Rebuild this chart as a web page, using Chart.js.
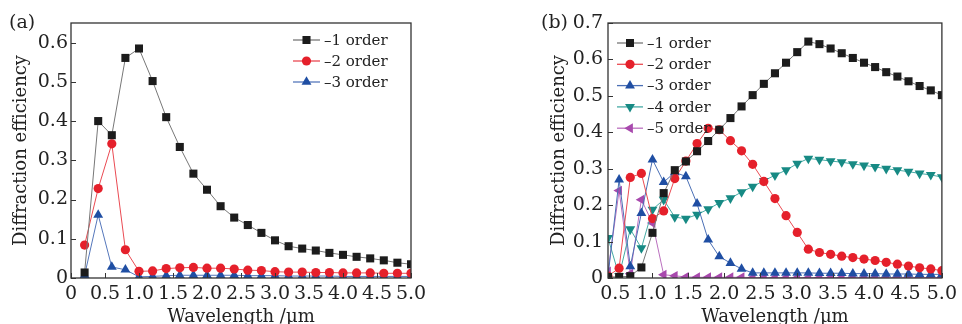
<!DOCTYPE html>
<html>
<head>
<meta charset="utf-8">
<script src="https://cdn.jsdelivr.net/npm/chart.js@4.4.1/dist/chart.umd.min.js"></script>
<style>
body{margin:0;width:962px;height:324px;overflow:hidden;background:#fff;position:relative}
canvas{position:absolute;top:0}
#chartA{left:0}
#chartB{left:480px}
</style>
</head>
<body>
<canvas id="chartA" width="440" height="340"></canvas>
<canvas id="chartB" width="482" height="340"></canvas>
<script>

// (a) wavelength samples and efficiencies
const wavelengthA=[0.2,0.4,0.6,0.8,1.0,1.2,1.4,1.6,1.8,2.0,2.2,2.4,2.6,2.8,3.0,3.2,3.4,3.6,3.8,4.0,4.2,4.4,4.6,4.8,5.0];
const order1A=[0.014,0.400,0.364,0.561,0.585,0.502,0.410,0.334,0.266,0.225,0.183,0.154,0.135,0.115,0.096,0.081,0.075,0.070,0.064,0.059,0.054,0.050,0.045,0.039,0.035];
const order2A=[0.084,0.228,0.342,0.072,0.017,0.018,0.024,0.026,0.027,0.025,0.025,0.023,0.020,0.019,0.016,0.015,0.015,0.014,0.014,0.013,0.013,0.013,0.012,0.012,0.012];
const order3A=[0.007,0.161,0.028,0.021,0.003,0.004,0.006,0.007,0.007,0.007,0.007,0.007,0.006,0.006,0.006,0.005,0.005,0.005,0.005,0.004,0.004,0.004,0.004,0.004,0.004];
const xTicksA=[0,0.5,1.0,1.5,2.0,2.5,3.0,3.5,4.0,4.5,5.0];
const yTicksA=[0,0.1,0.2,0.3,0.4,0.5,0.6];

// (b)
const wavelengthB=[0.4,0.553,0.707,0.86,1.013,1.167,1.32,1.473,1.627,1.78,1.933,2.087,2.24,2.393,2.547,2.7,2.853,3.007,3.16,3.313,3.467,3.62,3.773,3.927,4.08,4.233,4.387,4.54,4.693,4.847,5.0];
const order1B=[0.003,0.003,0.005,0.029,0.124,0.233,0.296,0.320,0.348,0.376,0.407,0.439,0.471,0.502,0.533,0.562,0.591,0.620,0.649,0.642,0.630,0.617,0.604,0.591,0.579,0.565,0.553,0.540,0.527,0.515,0.502];
const order2B=[0.005,0.027,0.276,0.287,0.163,0.184,0.273,0.321,0.369,0.411,0.407,0.377,0.349,0.312,0.265,0.218,0.171,0.125,0.079,0.070,0.065,0.060,0.056,0.052,0.048,0.043,0.038,0.033,0.028,0.025,0.020];
const order3B=[0.005,0.270,0.032,0.178,0.325,0.263,0.290,0.279,0.204,0.105,0.059,0.041,0.025,0.014,0.014,0.014,0.014,0.014,0.014,0.013,0.013,0.013,0.012,0.012,0.012,0.011,0.011,0.011,0.010,0.010,0.010];
const order4B=[0.110,0.006,0.134,0.082,0.188,0.215,0.167,0.163,0.174,0.189,0.206,0.219,0.236,0.251,0.267,0.282,0.296,0.314,0.328,0.325,0.321,0.318,0.313,0.309,0.305,0.300,0.296,0.292,0.287,0.283,0.277];
const order5B=[0.018,0.240,0.012,0.215,0.151,0.009,0.006,0.003,0.002,0.002,0.002,0.002,0.002,0.001,0.001,0.001,0.001,0.001,0.001,0.001,0.001,0.001,0.001,0.001,0.001,0.001,0.001,0.001,0.001,0.001,0.001];
const xTicksB=[0.5,1.0,1.5,2.0,2.5,3.0,3.5,4.0,4.5,5.0];
const yTicksB=[0,0.1,0.2,0.3,0.4,0.5,0.6,0.7];

Chart.defaults.font.family="'DejaVu Serif', serif";
Chart.defaults.color="#222";

function pts(xs,ys){
return xs.map((x,i)=>({x:x,y:ys[i]}));
}

function series(label,xs,ys,color,lineColor,style,radius,rot){
return {
label:label,
data:pts(xs,ys),
borderColor:lineColor,
backgroundColor:color,
pointBackgroundColor:color,
pointBorderColor:color,
borderWidth:1,
pointBorderWidth:0,
pointStyle:style,
pointRadius:radius,
pointRotation:rot||0,
tension:0
};
}

function tickLabel(v){
return v===0?"0":v.toFixed(1);
}

// frame, inside ticks, legend with line + marker, panel letter
const framePlugin={
id:"frame",
afterDraw(chart,args,opt){
const ctx=chart.ctx,a=chart.chartArea;
ctx.save();
ctx.strokeStyle="#333";
ctx.lineWidth=1.3;
ctx.strokeRect(a.left,a.top,a.right-a.left,a.bottom-a.top);
ctx.lineWidth=1;
chart.scales.x.ticks.forEach(t=>{
const px=Math.round(chart.scales.x.getPixelForValue(t.value))+0.5;
ctx.beginPath();ctx.moveTo(px,a.bottom);ctx.lineTo(px,a.bottom-5);ctx.stroke();
});
chart.scales.y.ticks.forEach(t=>{
const py=Math.round(chart.scales.y.getPixelForValue(t.value))+0.5;
ctx.beginPath();ctx.moveTo(a.left,py);ctx.lineTo(a.left+5,py);ctx.stroke();
});

// legend
ctx.font="15px 'DejaVu Serif'";
ctx.textBaseline="middle";
chart.data.datasets.forEach((ds,i)=>{
const y=opt.legendY+i*opt.legendGap;
ctx.strokeStyle=ds.borderColor;
ctx.lineWidth=1.3;
ctx.beginPath();ctx.moveTo(opt.legendX,y);ctx.lineTo(opt.legendX+opt.legendLen,y);ctx.stroke();
ctx.fillStyle=ds.pointBackgroundColor;
Chart.helpers.drawPoint(ctx,{pointStyle:ds.pointStyle,radius:ds.pointRadius,rotation:ds.pointRotation,borderWidth:0},opt.legendX+opt.legendLen/2,y);
ctx.fillStyle="#222";
ctx.fillText(ds.label,opt.legendX+opt.legendLen+4,y+1);
});

ctx.font="19px 'DejaVu Serif'";
ctx.fillStyle="#222";
ctx.textBaseline="middle";
ctx.fillText(opt.letter,opt.letterX,opt.letterY);
ctx.restore();
}
};

function makeOptions(xMin,xMax,yMax,xTicks,yTicks,yWidth,yTitlePad,tickPad,padRight,frame){
return {
responsive:false,
animation:false,
devicePixelRatio:1,
layout:{padding:{top:23,right:padRight,bottom:0,left:0}},
plugins:{legend:{display:false},tooltip:{enabled:false},frame:frame},
scales:{
x:{
type:"linear",min:xMin,max:xMax,
grid:{display:false,drawTicks:false},
border:{display:false},
afterBuildTicks:s=>{s.ticks=xTicks.map(v=>({value:v}));},
afterFit:s=>{s.height=62;},
ticks:{padding:5,maxRotation:0,autoSkip:false,font:{size:19},callback:v=>tickLabel(v)},
title:{display:true,text:"Wavelength /μm",font:{size:18},padding:{top:0,bottom:12}}
},
y:{
type:"linear",min:0,max:yMax,
grid:{display:false,drawTicks:false},
border:{display:false},
afterBuildTicks:s=>{s.ticks=yTicks.map(v=>({value:v}));},
afterFit:s=>{s.width=yWidth;},
ticks:{padding:tickPad,autoSkip:false,font:{size:19},callback:v=>tickLabel(v)},
title:{display:true,text:"Diffraction efficiency",font:{size:18},padding:{top:yTitlePad,bottom:0}}
}
}
};
}

new Chart(document.getElementById("chartA"),{
type:"line",
data:{datasets:[
series("–1 order",wavelengthA,order1A,"#1c1c1c","#777","rect",5.7),
series("–2 order",wavelengthA,order2A,"#e5202b","#ea4a52","circle",4.6),
series("–3 order",wavelengthA,order3A,"#1f4ea3","#5577bb","triangle",5.7)
]},
options:makeOptions(0,5,0.65,xTicksA,yTicksA,71,11,3,29,
{legendX:293,legendY:40,legendGap:21,legendLen:27,letter:"(a)",letterX:9,letterY:23}),
plugins:[framePlugin]
});

new Chart(document.getElementById("chartB"),{
type:"line",
data:{datasets:[
series("–1 order",wavelengthB,order1B,"#1c1c1c","#777","rect",5.7),
series("–2 order",wavelengthB,order2B,"#e5202b","#ea4a52","circle",4.6),
series("–3 order",wavelengthB,order3B,"#1f4ea3","#4a6fb5","triangle",5.7),
series("–4 order",wavelengthB,order4B,"#178a84","#45aaa4","triangle",5.7,180),
series("–5 order",wavelengthB,order5B,"#a849ad","#bb70bf","triangle",5.7,-90)
]},
options:makeOptions(0.4,5,0.7,xTicksB,yTicksB,128,69,5,11,
{legendX:137,legendY:43,legendGap:21.3,legendLen:26,letter:"(b)",letterX:61,letterY:23}),
plugins:[framePlugin]
});
</script>
</body>
</html>
